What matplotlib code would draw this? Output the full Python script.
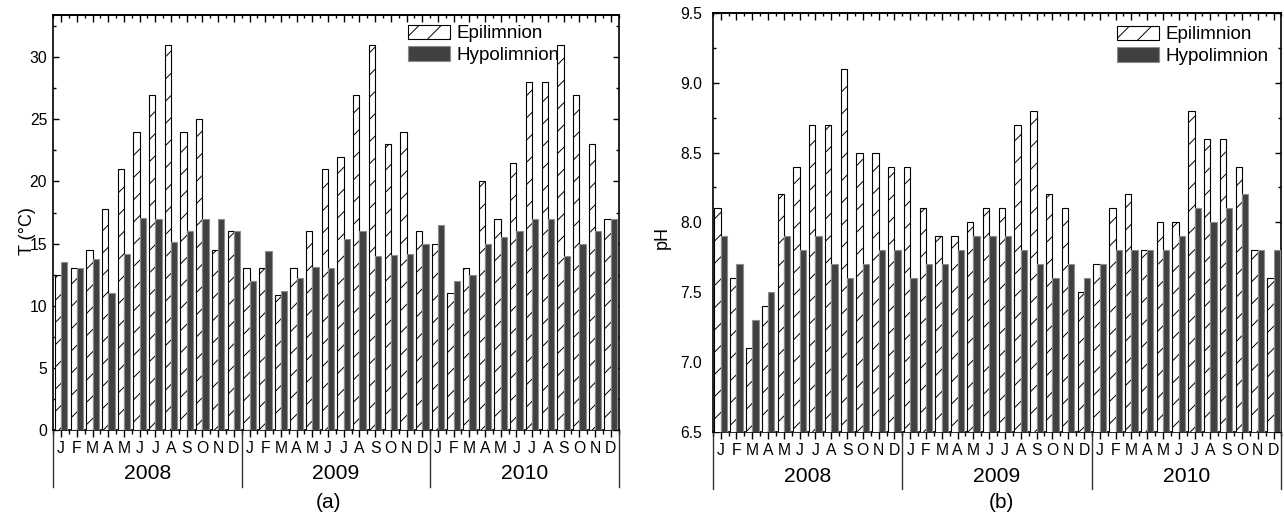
import numpy as np
import matplotlib
matplotlib.use("Agg")
import matplotlib.pyplot as plt
from matplotlib.patches import Patch
from matplotlib.ticker import MultipleLocator

# monthly values, Jan 2008 - Dec 2010
years = ["2008", "2009", "2010"]
month_letters = ["J", "F", "M", "A", "M", "J", "J", "A", "S", "O", "N", "D"]

temp_epi = [12.5, 13, 14.5, 17.8, 21, 24, 27, 31, 24, 25, 14.5, 16,
            13, 13, 10.9, 13, 16, 21, 22, 27, 31, 23, 24, 16,
            15, 11, 13, 20, 17, 21.5, 28, 28, 31, 27, 23, 17]
temp_hypo = [13.5, 13, 13.8, 11, 14.2, 17.1, 17, 15.1, 16, 17, 17, 16,
             12, 14.4, 11.2, 12.2, 13.1, 13, 15.4, 16, 14, 14.1, 14.2, 15,
             16.5, 12, 12.5, 15, 15.5, 16, 17, 17, 14, 15, 16, 17]

ph_epi = [8.1, 7.6, 7.1, 7.4, 8.2, 8.4, 8.7, 8.7, 9.1, 8.5, 8.5, 8.4,
          8.4, 8.1, 7.9, 7.9, 8.0, 8.1, 8.1, 8.7, 8.8, 8.2, 8.1, 7.5,
          7.7, 8.1, 8.2, 7.8, 8.0, 8.0, 8.8, 8.6, 8.6, 8.4, 7.8, 7.6]
ph_hypo = [7.9, 7.7, 7.3, 7.5, 7.9, 7.8, 7.9, 7.7, 7.6, 7.7, 7.8, 7.8,
           7.6, 7.7, 7.7, 7.8, 7.9, 7.9, 7.9, 7.8, 7.7, 7.6, 7.7, 7.6,
           7.7, 7.8, 7.8, 7.8, 7.8, 7.9, 8.1, 8.0, 8.1, 8.2, 7.8, 7.8]

plt.rcParams.update({
    "font.family": ["Liberation Sans", "DejaVu Sans"],
    "hatch.linewidth": 0.35,
    "axes.linewidth": 0.6,
})

DARK = "#404040"
n = len(temp_epi)
x = np.arange(n)
labels = month_letters * len(years)

fig = plt.figure(figsize=(6.42, 2.595), dpi=200)
ax1 = fig.add_axes([0.0415, 0.1715, 0.4402, 0.7996])
ax2 = fig.add_axes([0.5551, 0.1682, 0.4429, 0.8067])


def draw_panel(ax, epi, hypo, ylim, major, minor, ylabel, ylabel_pos,
               legend_pos, ypad):
    ax.bar(x - 0.2, epi, width=0.4, facecolor="white", edgecolor="black",
           hatch="///", linewidth=0.4, zorder=3)
    ax.bar(x + 0.2, hypo, width=0.4, facecolor=DARK, edgecolor="#8c8c8c",
           linewidth=0.4, zorder=3)

    ax.set_xlim(-0.5, n - 0.5)
    ax.set_ylim(*ylim)
    ax.yaxis.set_major_locator(MultipleLocator(major))
    ax.yaxis.set_minor_locator(MultipleLocator(minor))
    ax.tick_params(axis="y", which="both", direction="in", right=True,
                   labelsize=5.7, pad=ypad)
    ax.tick_params(axis="y", which="major", length=2.2, width=0.5)
    ax.tick_params(axis="y", which="minor", length=1.2, width=0.5)

    ax.set_xticks(x, labels)
    ax.set_xticks(np.arange(n + 1) - 0.5, minor=True)
    ax.tick_params(axis="x", which="both", direction="out", top=False,
                   labelsize=5.7, pad=1.6, width=0.5)
    ax.tick_params(axis="x", which="major", length=2.4)
    ax.tick_params(axis="x", which="minor", length=1.4)

    top = ax.secondary_xaxis("top")
    top.set_xticks(x)
    top.set_xticks(np.arange(n + 1) - 0.5, minor=True)
    top.tick_params(axis="x", which="both", direction="in", labeltop=False,
                    width=0.5)
    top.tick_params(axis="x", which="major", length=2.4)
    top.tick_params(axis="x", which="minor", length=1.2)

    # year row under the month letters
    trans = ax.get_xaxis_transform()
    for b in np.arange(0, n + 1, 12) - 0.5:
        ax.plot([b, b], [0, -0.138], transform=trans, clip_on=False,
                color="#333333", lw=0.5)
    for i, yr in enumerate(years):
        ax.text(i * 12 + 5.5, -0.106, yr, transform=trans, ha="center",
                va="center", fontsize=7.6)

    ax.set_ylabel(ylabel, fontsize=6.5)
    ax.yaxis.set_label_coords(*ylabel_pos)

    handles = [Patch(facecolor="white", edgecolor="black", hatch="///", lw=0.4),
               Patch(facecolor=DARK, edgecolor="#8c8c8c", lw=0.4)]
    ax.legend(handles, ["Epilimnion", "Hypolimnion"], loc="upper left",
              bbox_to_anchor=legend_pos, frameon=False, fontsize=6.8,
              borderpad=0, borderaxespad=0, handlelength=2.2,
              handleheight=0.8, handletextpad=0.35, labelspacing=0.2)


draw_panel(ax1, temp_epi, temp_hypo, (0, 33.4), 5, 2.5, "T (°C)",
           (-0.031, 0.48), (0.628, 0.977), 2.2)
draw_panel(ax2, ph_epi, ph_hypo, (6.5, 9.5), 0.5, 0.25, "pH",
           (-0.073, 0.465), (0.711, 0.970), 3.8)

fig.text(0.2555, 0.031, "(a)", ha="center", va="center", fontsize=7.5)
fig.text(0.780, 0.031, "(b)", ha="center", va="center", fontsize=7.5)

fig.savefig("out.png", dpi=200)
